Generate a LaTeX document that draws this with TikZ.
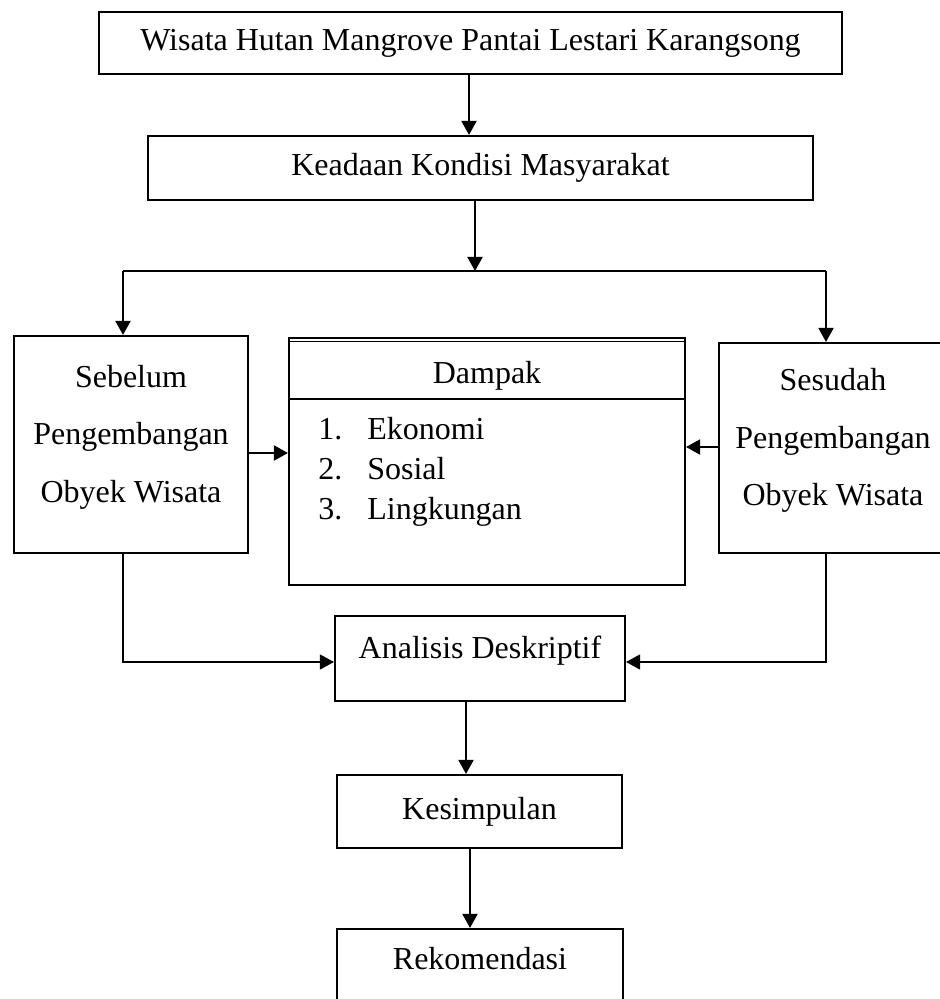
\documentclass[tikz,border=0pt]{standalone}
\usepackage{fontspec}
\setmainfont{Liberation Serif}
\usetikzlibrary{arrows.meta, calc, positioning}

\begin{document}
\begin{tikzpicture}[x=0.2mm, y=-0.2mm]
        \useasboundingbox (0, 0) rectangle (940, 999);
        \clip (0, 0) rectangle (940, 999);

        \tikzstyle{box} = [draw, line width=1.2pt, inner sep=0pt, font=\fontsize{18.2}{32.7}\selectfont];
        \tikzstyle{txt} = [inner sep=0pt, font=\fontsize{18.2}{22.8}\selectfont];
        \tikzstyle{arr} = [line width=1.1pt, -{Triangle[length=2.8mm, width=3mm]}];
        \tikzstyle{thinarr} = [line width=0.6pt, -{Triangle[length=2.8mm, width=3mm]}];

        % boxes
        \node [box, minimum width=148.6mm, minimum height=12.4mm] (wisata) at (470.5, 43) {Wisata Hutan Mangrove Pantai Lestari Karangsong};
        \node [box, minimum width=133mm, minimum height=12.8mm] (kondisi) at (480.5, 168) {Keadaan Kondisi Masyarakat};

        \node [box, minimum width=46.8mm, minimum height=43.4mm, align=center] (sebelum) at (131, 444.5)
            {Sebelum\\Pengembangan\\Obyek Wisata\rule[-4.4mm]{0pt}{4.4mm}};
        \node [box, minimum width=45.6mm, minimum height=42mm, align=center] (sesudah) at (833, 448)
            {Sesudah\\Pengembangan\\Obyek Wisata\rule[-4.4mm]{0pt}{4.4mm}};

        \node [box, minimum width=79.2mm, minimum height=49.4mm] (dampak) at (487, 461.5) {};
        \node [txt, anchor=base] (dampakjudul) at (487, 383) {Dampak};
        \node [txt, anchor=north west, align=left] (dampakisi) at (318, 417)
            {\makebox[9.8mm][l]{1.}Ekonomi\\\makebox[9.8mm][l]{2.}Sosial\\\makebox[9.8mm][l]{3.}Lingkungan};
        \coordinate (atas) at (0, 341.5);
        \coordinate (garis) at (0, 399);
        \draw [line width=0.6pt] (dampak.west |- atas) -- (dampak.east |- atas);
        \draw [line width=1.2pt] (dampak.west |- garis) -- (dampak.east |- garis);

        \node [box, minimum width=58mm, minimum height=17mm, text height=4.4mm, text depth=4.4mm] (analisis) at (480, 658.5) {Analisis Deskriptif};
        \node [box, minimum width=57mm, minimum height=14.6mm] (kesimpulan) at (479.5, 811.5) {Kesimpulan};
        \node [box, minimum width=57.2mm, minimum height=16.2mm, text height=4.4mm, text depth=4.4mm] (rekomendasi) at (480, 969.5) {Rekomendasi};

        % connectors
        \coordinate (K) at (475, 271);
        \coordinate (KL) at (123, 271);
        \coordinate (KR) at (826, 271);
        \coordinate (BL) at (123, 662);
        \coordinate (BR) at (826, 662);
        \coordinate (TL) at (0, 453);
        \coordinate (TR) at (0, 447);

        \foreach \a/\b/\x in {wisata/kondisi/469, analisis/kesimpulan/466, kesimpulan/rekomendasi/470}{
            \coordinate (s) at (\x, 0);
            \draw [arr] (\a.south -| s) -- (\b.north -| s);
        }

        \draw [arr] (kondisi.south -| K) -- (K);
        \draw [line width=0.6pt] (KL) -- (KR);
        \draw [arr] (KL) -- (sebelum.north -| KL);
        \draw [arr] (KR) -- (sesudah.north -| KR);

        \draw [arr] (sebelum.east |- TL) -- (dampak.west |- TL);
        \draw [arr] (sesudah.west |- TR) -- (dampak.east |- TR);

        \draw [thinarr] (sebelum.south -| BL) -- (BL) -- (analisis.west |- BL);
        \draw [thinarr] (sesudah.south -| BR) -- (BR) -- (analisis.east |- BR);
\end{tikzpicture}
\end{document}
